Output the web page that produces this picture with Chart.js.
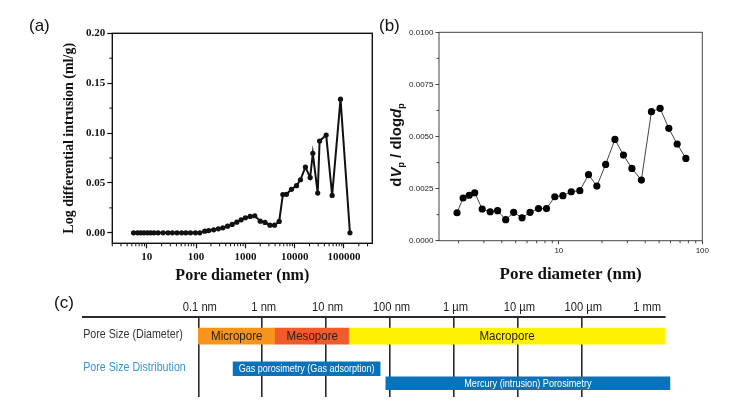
<!DOCTYPE html>
<html><head><meta charset="utf-8">
<script src="https://cdn.jsdelivr.net/npm/chart.js@4.4.1/dist/chart.umd.min.js"></script>
<style>
html,body{margin:0;padding:0;background:#fff;}
body{width:742px;height:405px;position:relative;overflow:hidden;}
.box{position:absolute;}
.lab{position:absolute;font-family:'Liberation Sans',Arial,sans-serif;font-size:17px;line-height:17px;color:#111;white-space:nowrap;}
</style></head><body>
<div class="box" style="left:0;top:0;width:380px;height:300px"><canvas id="ca" width="380" height="300"></canvas></div>
<div class="box" style="left:380px;top:0;width:362px;height:300px"><canvas id="cb" width="362" height="300"></canvas></div>
<div class="box" style="left:0;top:290px;width:742px;height:115px"><canvas id="cc" width="742" height="115"></canvas></div>
<div class="lab" style="left:29px;top:16.5px">(a)</div>
<div class="lab" style="left:379px;top:16.5px">(b)</div>
<div class="lab" style="left:54px;top:293.5px">(c)</div>
<script>
// ---------- Panel (a): mercury intrusion (log differential intrusion) ----------
const diamA = [5.4,6.5,7.6,8.8,10.3,12,14,17,21.5,27,33,41,51,62,77,97,119,
  150,180,227,282,350,435,540,670,820,1000,1250,1550,
  2000,2500,3150,3900,4850,
  5750,6800,8600,10900,13100,16500,20600,23300,29300,32000,43500,57500,85000,132000];
const intrA = [0,0,0,0,0,0,0,0,0,0,0,0,0,0,0,0,0,
  0.0017,0.0023,0.003,0.004,0.005,0.0067,0.0084,0.0107,0.013,0.0151,0.0164,0.0171,
  0.0117,0.0104,0.0077,0.0077,0.0114,
  0.0383,0.0386,0.0436,0.0473,0.0532,0.066,0.0554,0.0797,0.0398,0.092,0.098,0.0375,0.134,0];
const xTicksA = [10,100,1000,10000,100000];
const yTicksA = [0,0.05,0.10,0.15,0.20];

// ---------- Panel (b): gas adsorption (dVp/dlogdp) ----------
const diamB = [1.95,2.15,2.37,2.59,2.92,3.32,3.74,4.26,4.84,5.54,6.3,7.21,8.2,9.37,10.67,12.2,14.0,16.1,18.4,21.2,24.6,28.2,32.3,37.6,44.2,50.8,58.4,66.8,76.8];
const dvB = [0.00134,0.00205,0.00218,0.0023,0.00152,0.00139,0.00144,0.00101,0.00136,0.0011,0.00136,0.00154,0.00154,0.00211,0.00216,0.00235,0.0024,0.00317,0.00262,0.00366,0.00486,0.00411,0.00347,0.00291,0.00619,0.00635,0.00539,0.00464,0.00395];
const xTicksB = [10,100];
const yTicksB = [0,0.0025,0.005,0.0075,0.01];

// ---------- Panel (c): pore size classes and measuring methods (nm) ----------
const rowNames = ['Pore Size (Diameter)','Pore Size Distribution'];
const poreClasses = ['Micropore','Mesopore','Macropore'];
const classFrom = [0.1, 1.6, 23];
const classTo = [1.6, 23, 2.0e6];
const methods = ['Gas porosimetry (Gas adsorption)','Mercury (intrusion) Porosimetry'];
const methodFrom = [0.35, 86];
const methodTo = [70, 2.4e6];
const scaleTicksC = [0.1,1,10,100,1000,1e4,1e5,1e6];
const scaleLabelsC = ['0.1 nm','1 nm','10 nm','100 nm','1 µm','10 µm','100 µm','1 mm'];

const SERIF = "'Liberation Serif','Times New Roman',serif";
const SANS = "'Liberation Sans',Arial,sans-serif";

function logMinors(min,max,majors){
  const out=[];
  for(let e=Math.floor(Math.log10(min)); e<=Math.ceil(Math.log10(max)); e++){
    for(let k=1;k<=9;k++){const v=k*Math.pow(10,e); if(v>=min&&v<=max&&!majors.some(m=>Math.abs(m-v)/m<1e-9)) out.push(v);}
  }
  return out;
}
function midMinors(t){const o=[];for(let i=0;i<t.length-1;i++)o.push((t[i]+t[i+1])/2);return o;}

// condensed text (no condensed face installed): horizontal squeeze
function condText(ctx,text,x,y,font,color,sx,align){
  ctx.save(); ctx.font=font; ctx.fillStyle=color; ctx.textBaseline='middle'; ctx.textAlign='left';
  const w=ctx.measureText(text).width*sx;
  const x0=align==='center'?x-w/2:(align==='left'?x:x-w);
  ctx.translate(x0,y); ctx.scale(sx,1); ctx.fillText(text,0,0); ctx.restore();
}

function decor(cfg){return {id:'decor',afterDraw(chart){
  const {ctx,chartArea:a,scales}=chart; ctx.save();
  ctx.strokeStyle=cfg.color; ctx.lineWidth=cfg.tickWidth; ctx.beginPath();
  cfg.minorX.forEach(v=>{const p=scales.x.getPixelForValue(v); if(p<a.left-0.5||p>a.right+0.5)return; ctx.moveTo(p,a.bottom); ctx.lineTo(p,a.bottom+cfg.minorLen);});
  cfg.minorY.forEach(v=>{const p=scales.y.getPixelForValue(v); ctx.moveTo(a.left,p); ctx.lineTo(a.left-cfg.minorLen,p);});
  ctx.stroke();
  ctx.lineWidth=cfg.frameWidth; ctx.strokeStyle=cfg.frameColor;
  ctx.strokeRect(a.left,a.top,a.right-a.left,a.bottom-a.top);
  ctx.restore();
}};}

// ---------- Chart (a) ----------
new Chart(document.getElementById('ca'),{
  type:'line',
  data:{datasets:[{data:diamA.map((d,i)=>({x:d,y:intrA[i]})),borderColor:'#111',borderWidth:2,
    pointRadius:2.6,pointBackgroundColor:'#111',pointBorderWidth:0,tension:0}]},
  options:{responsive:false,animation:false,devicePixelRatio:1,
    layout:{padding:{left:60.6,right:7.7,top:33.3,bottom:14.4}},
    plugins:{legend:{display:false},tooltip:{enabled:false}},
    scales:{
      x:{type:'logarithmic',min:2,max:375000,
        afterBuildTicks:s=>{s.ticks=xTicksA.map(v=>({value:v}));},
        afterFit:s=>{s.height=42.3;},
        ticks:{callback:v=>String(v),font:{family:SERIF,weight:'bold',size:11},color:'#111',padding:2,maxRotation:0,autoSkip:false},
        grid:{display:true,drawOnChartArea:false,drawTicks:true,tickLength:5,tickColor:'#111',tickWidth:1.2},
        border:{display:false},
        title:{display:true,text:'Pore diameter (nm)',font:{family:SERIF,weight:'bold',size:16},color:'#111',padding:0}},
      y:{type:'linear',min:-0.0105,max:0.2,
        afterBuildTicks:s=>{s.ticks=yTicksA.map(v=>({value:v}));},
        afterFit:s=>{s.width=51.7;},
        ticks:{callback:v=>v.toFixed(2),font:{family:SERIF,weight:'bold',size:11},color:'#111',padding:2},
        grid:{display:true,drawOnChartArea:false,drawTicks:true,tickLength:5,tickColor:'#111',tickWidth:1.2},
        border:{display:false},
        title:{display:true,text:'Log differential intrusion (ml/g)',font:{family:SERIF,weight:'bold',size:14},color:'#111',padding:0}}
    }},
  plugins:[decor({color:'#111',tickWidth:1,minorLen:3,frameColor:'#111',frameWidth:1.4,
    minorX:logMinors(2,375000,xTicksA),minorY:midMinors(yTicksA)})]
});

// ---------- Chart (b) ----------
const yTitleB={id:'yTitleB',afterDraw(chart){
  const ctx=chart.ctx;
  const big='bold 15px '+SANS, bigI='italic bold 15px '+SANS, sub='bold 9px '+SANS;
  const parts=[['d',big,0],['V',bigI,0],['p',sub,3.5],[' / dlog',big,0],['d',bigI,0],['p',sub,3.5]];
  let total=0; parts.forEach(p=>{ctx.font=p[1]; total+=ctx.measureText(p[0]).width;});
  ctx.save(); ctx.translate(20.5,145); ctx.rotate(-Math.PI/2);
  ctx.fillStyle='#111'; ctx.textBaseline='alphabetic';
  let x=-total/2;
  parts.forEach(p=>{ctx.font=p[1]; ctx.fillText(p[0],x,p[2]); x+=ctx.measureText(p[0]).width;});
  ctx.restore();
}};
new Chart(document.getElementById('cb'),{
  type:'line',
  data:{datasets:[{data:diamB.map((d,i)=>({x:d,y:dvB[i]})),borderColor:'#444',borderWidth:1,
    pointRadius:3.6,pointBackgroundColor:'#000',pointBorderWidth:0,tension:0}]},
  options:{responsive:false,animation:false,devicePixelRatio:1,
    layout:{padding:{left:23,right:39.7,top:32.3,bottom:14.8}},
    plugins:{legend:{display:false},tooltip:{enabled:false}},
    scales:{
      x:{type:'logarithmic',min:1.46,max:100,
        afterBuildTicks:s=>{s.ticks=xTicksB.map(v=>({value:v}));},
        afterFit:s=>{s.height=44.5;},
        ticks:{callback:v=>String(v),font:{family:SANS,size:8},color:'#222',padding:2,maxRotation:0,autoSkip:false},
        grid:{display:true,drawOnChartArea:false,drawTicks:true,tickLength:3.5,tickColor:'#444',tickWidth:1},
        border:{display:false},
        title:{display:true,text:'Pore diameter (nm)',font:{family:SERIF,weight:'bold',size:17},color:'#111',padding:0}},
      y:{type:'linear',min:0,max:0.01,
        afterBuildTicks:s=>{s.ticks=yTicksB.map(v=>({value:v}));},
        afterFit:s=>{s.width=36;},
        ticks:{callback:v=>v.toFixed(4),font:{family:SANS,size:8},color:'#222',padding:2},
        grid:{display:true,drawOnChartArea:false,drawTicks:true,tickLength:3.5,tickColor:'#444',tickWidth:1},
        border:{display:false},
        title:{display:false}}
    }},
  plugins:[decor({color:'#444',tickWidth:1,minorLen:2.5,frameColor:'#444',frameWidth:1,
    minorX:logMinors(1.46,100,xTicksB),minorY:midMinors(yTicksB)}),yTitleB]
});

// ---------- Chart (c) ----------
const laneClass=0, laneGas=2.25, laneHg=3.25;
const barText={id:'barText',afterDatasetsDraw(chart){
  const ctx=chart.ctx;
  chart.data.datasets.forEach((ds,di)=>{
    chart.getDatasetMeta(di).data.forEach((el,i)=>{
      const p=el.getProps(['x','base','y'],true);
      condText(ctx,ds.texts[i],(p.x+p.base)/2,p.y+0.5,ds.textFont,ds.textColor,ds.textSqueeze,'center');
    });
  });
}};
const axisTextC={id:'axisTextC',afterDraw(chart){
  const ctx=chart.ctx, a=chart.chartArea, sx=chart.scales.x, sy=chart.scales.y;
  scaleTicksC.forEach((v,i)=>{
    condText(ctx,scaleLabelsC[i],sx.getPixelForValue(v)+1.5,a.top-9.5,'13px '+SANS,'#222',0.86,'center');
  });
  [laneClass,laneGas].forEach((lane,i)=>{
    condText(ctx,rowNames[i],a.left+0.5,sy.getPixelForValue(lane)-1.5,'13.5px '+SANS,i===0?'#333333':'#3595D3',0.79,'left');
  });
}};
new Chart(document.getElementById('cc'),{
  type:'bar',
  data:{datasets:[
    {data:poreClasses.map((c,i)=>({x:[classFrom[i],classTo[i]],y:laneClass})),
     backgroundColor:['#F7941D','#F15A29','#FFF200'],barThickness:16,grouped:false,
     texts:poreClasses,textColor:'#2b2118',textFont:'13px '+SANS,textSqueeze:0.89},
    {data:[{x:[methodFrom[0],methodTo[0]],y:laneGas}],backgroundColor:'#0A72BA',barThickness:14,grouped:false,
     texts:[methods[0]],textColor:'#ffffff',textFont:'11px '+SANS,textSqueeze:0.82},
    {data:[{x:[methodFrom[1],methodTo[1]],y:laneHg}],backgroundColor:'#0A72BA',barThickness:13,grouped:false,clip:false,
     texts:[methods[1]],textColor:'#ffffff',textFont:'11px '+SANS,textSqueeze:0.83}
  ]},
  options:{indexAxis:'y',responsive:false,animation:false,devicePixelRatio:1,
    layout:{padding:{left:82.7,right:77,top:7.3,bottom:8}},
    plugins:{legend:{display:false},tooltip:{enabled:false}},
    scales:{
      x:{type:'logarithmic',position:'top',min:0.00155,max:2.01e6,
        afterBuildTicks:s=>{s.ticks=scaleTicksC.map(v=>({value:v}));},
        afterFit:s=>{s.height=20;},
        ticks:{display:false},
        grid:{display:true,drawTicks:false,color:c=>(c.tick&&c.tick.value>=1e6)?'rgba(0,0,0,0)':'#2a2a2a',lineWidth:1.6},
        border:{display:true,color:'#2a2a2a',width:2}},
      y:{type:'linear',reverse:true,min:-1.3,max:4.2,offset:false,
        afterBuildTicks:s=>{s.ticks=[laneClass,laneGas].map(v=>({value:v}));},
        afterFit:s=>{s.width=0;},
        ticks:{display:false},
        grid:{display:false},border:{display:false}}
    }},
  plugins:[barText,axisTextC]
});
</script>
</body></html>
